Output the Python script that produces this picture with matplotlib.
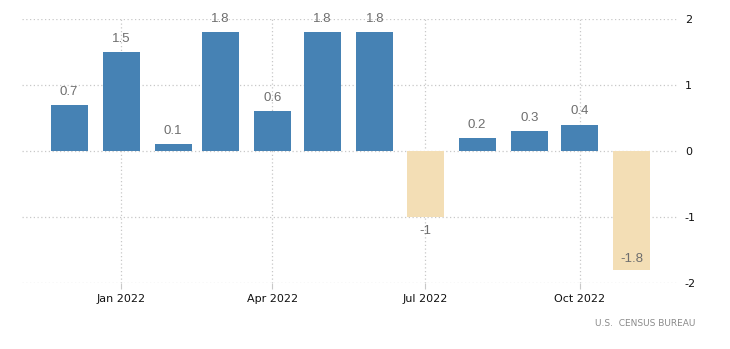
import matplotlib
matplotlib.use("Agg")
import matplotlib.pyplot as plt
import matplotlib.dates as mdates
import numpy as np
import datetime as dt

# aylik degisim (%), Ara 2021 - Kas 2022
months = ["2021-12", "2022-01", "2022-02", "2022-03", "2022-04", "2022-05",
          "2022-06", "2022-07", "2022-08", "2022-09", "2022-10", "2022-11"]
values = [0.7, 1.5, 0.1, 1.8, 0.6, 1.8, 1.8, -1, 0.2, 0.3, 0.4, -1.8]
labels = ["0.7", "1.5", "0.1", "1.8", "0.6", "1.8", "1.8", "-1", "0.2", "0.3", "0.4", "-1.8"]
tick_dates = ["2022-01", "2022-04", "2022-07", "2022-10"]
tick_labels = ["Jan 2022", "Apr 2022", "Jul 2022", "Oct 2022"]
source = "U.S.  CENSUS BUREAU"

POS = "#4682b4"
NEG = "#f3deb5"
GRID = "#c8c8c8"
LBL = "#6e6e6e"

x = mdates.date2num([dt.datetime.strptime(m, "%Y-%m") for m in months])
xt = mdates.date2num([dt.datetime.strptime(m, "%Y-%m") for m in tick_dates])

fig = plt.figure(figsize=(7.3, 3.49), dpi=100)
ax = fig.add_axes([22 / 730, 1 - 283 / 349, (678 - 22) / 730, (283 - 19) / 349])

colors = [POS if v >= 0 else NEG for v in values]
ax.bar(x, values, width=22, color=colors, zorder=2)

ax.set_xlim(mdates.date2num(dt.datetime(2021, 11, 3)),
            mdates.date2num(dt.datetime(2022, 11, 28, 14)))
ax.set_ylim(-2, 2)

ax.set_xticks(xt)
ax.set_xticklabels(tick_labels)
ax.set_yticks([-2, -1, 0, 1, 2])
ax.set_yticklabels(["-2", "-1", "0", "1", "2"])
ax.yaxis.tick_right()

ax.tick_params(axis="x", length=4, color=GRID, labelsize=8, pad=4, labelcolor="#111111")
ax.tick_params(axis="y", length=0, labelsize=8, pad=5, labelcolor="#111111")

ax.grid(True, color=GRID, linestyle=(0, (1, 2)), linewidth=0.9, zorder=0)
for s in ax.spines.values():
    s.set_visible(False)

# deger etiketleri
for xi, v, t in zip(x, values, labels):
    if v >= 0:
        ax.annotate(t, (xi, v), xytext=(0, 9.5), textcoords="offset points",
                    ha="center", va="center", fontsize=9.5, color=LBL,
                    family="Liberation Sans", zorder=3)
    elif v > -1.5:
        ax.annotate(t, (xi, v), xytext=(0, -10), textcoords="offset points",
                    ha="center", va="center", fontsize=9.5, color=LBL,
                    family="Liberation Sans", zorder=3)
    else:
        ax.annotate(t, (xi, v), xytext=(0, 7.5), textcoords="offset points",
                    ha="center", va="center", fontsize=9.5, color=LBL,
                    family="Liberation Sans", zorder=3)

fig.text(695 / 730, 1 - 324 / 349, source, ha="right", va="center",
         fontsize=6.5, color="#8a8a8a")

fig.savefig("out.png", dpi=100)
